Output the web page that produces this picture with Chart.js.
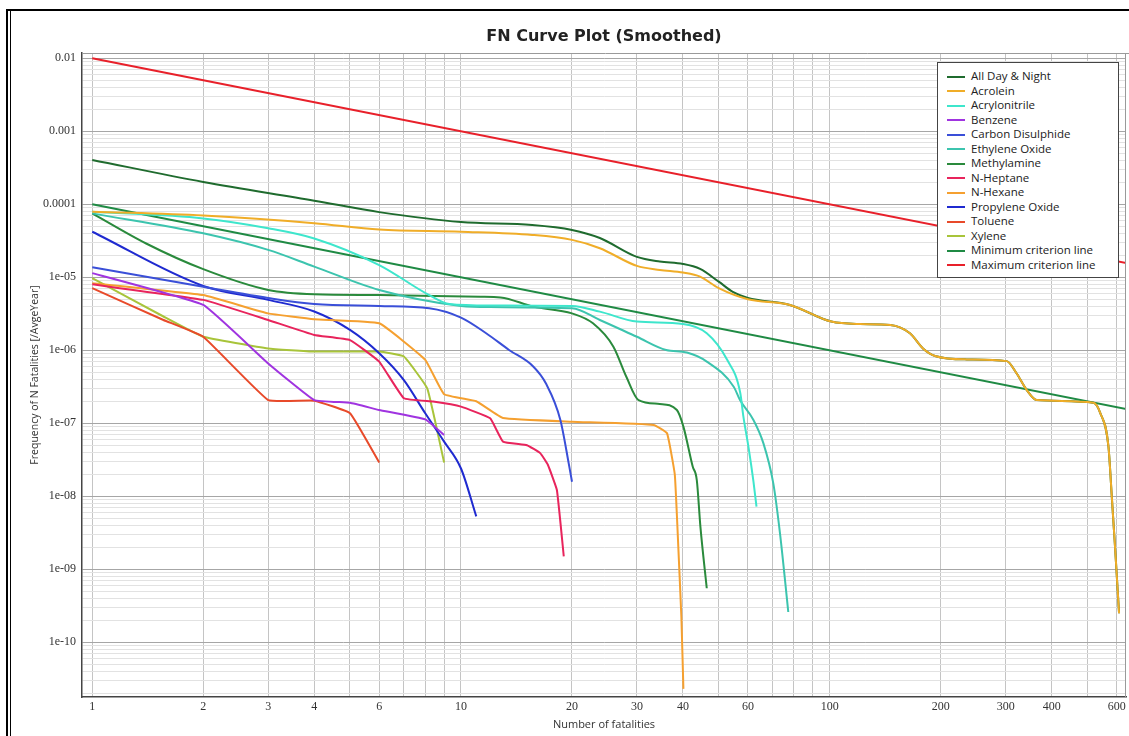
<!DOCTYPE html>
<html>
<head>
<meta charset="utf-8">
<title>FN Curve Plot (Smoothed)</title>
<script src="https://cdn.jsdelivr.net/npm/chart.js@4.4.1/dist/chart.umd.min.js"></script>
<style>
  html, body { margin: 0; padding: 0; background: #fff; overflow: hidden; }
  #wrap { position: relative; width: 1129px; height: 736px; overflow: hidden; }
  #fn { position: absolute; left: 0; top: 0; }
  .frame { position: absolute; left: 6px; top: 9px; width: 1200px; height: 800px;
           border-left: 2px solid #000; border-top: 2px solid #000; }
  .frame2 { position: absolute; left: 10px; top: 11px; width: 5px; height: 800px;
            border-left: 1px solid #000; }
  #legend { position: absolute; left: 937px; top: 62px; width: 182px; height: 216px;
            box-sizing: border-box; border: 1px solid #444; background: #fff;
            padding-top: 6px; font: 11.5px 'Open Sans', sans-serif; color: #222; }
  #legend div { height: 14.5px; line-height: 14.5px; white-space: nowrap; }
  #legend .sw { display: inline-block; width: 18px; height: 2px; vertical-align: middle;
                margin: 0 6px 0 9px; }
</style>
</head>
<body>
<div id="wrap">
  <canvas id="fn" width="1129" height="736"></canvas>
  <div class="frame"></div>
  <div class="frame2"></div>
  <div id="legend"></div>
</div>
<script>
// [number of fatalities, frequency]
const allDay = [[1, 4.05e-4], [2, 2.02e-4], [4, 1.12e-4], [6, 7.8e-5], [10, 5.7e-5], [15.6, 5.2e-5],
  [20, 4.45e-5], [23.8, 3.45e-5], [30, 1.9e-5], [34.6, 1.64e-5], [40, 1.52e-5], [44.5, 1.3e-5],
  [50, 8.7e-6], [54.6, 6.3e-6], [60, 5.2e-6], [78, 4.18e-6], [101, 2.47e-6], [121, 2.29e-6],
  [146, 2.22e-6], [165, 1.71e-6], [179, 1.06e-6], [193, 8.35e-7], [235, 7.5e-7], [302, 7.1e-7],
  [321, 4.84e-7], [342, 2.86e-7], [364, 2.08e-7], [519, 1.91e-7], [541, 1.4e-7], [570, 4.8e-8],
  [582, 9.9e-9], [594, 2.0e-9], [609, 2.5e-10]];
const acrolein = [[1, 7.9e-5], [2, 7.0e-5], [4, 5.5e-5], [6, 4.5e-5], [10, 4.2e-5], [15.6, 3.8e-5],
  [20, 3.25e-5], [23.8, 2.5e-5], [30, 1.43e-5], [34.6, 1.26e-5], [40, 1.16e-5], [44.5, 1.02e-5],
  [50, 7.1e-6], [60, 5.0e-6], [78, 4.18e-6], [101, 2.47e-6], [121, 2.29e-6], [146, 2.22e-6],
  [165, 1.71e-6], [179, 1.06e-6], [193, 8.35e-7], [235, 7.5e-7], [302, 7.1e-7], [321, 4.84e-7],
  [342, 2.86e-7], [364, 2.08e-7], [519, 1.91e-7], [541, 1.4e-7], [570, 4.8e-8], [582, 9.9e-9],
  [594, 2.0e-9], [609, 2.5e-10]];
const acrylonitrile = [[1, 7.9e-5], [2, 6.4e-5], [3, 4.7e-5], [4, 3.4e-5], [6, 1.47e-5], [8.2, 5.7e-6],
  [9.3, 4.3e-6], [12, 4.1e-6], [20, 4.05e-6], [23.8, 3.38e-6], [30, 2.47e-6], [40, 2.29e-6],
  [46.4, 1.71e-6], [52.7, 7.4e-7], [57.2, 2.6e-7], [58.3, 1.25e-7], [60.3, 4.5e-8], [62.1, 1.6e-8],
  [63.3, 7.2e-9]];
const benzene = [[1, 1.14e-5], [2, 4.18e-6], [3, 6.6e-7], [4, 2.08e-7], [5, 1.91e-7], [6, 1.52e-7],
  [8, 1.13e-7], [9, 6.9e-8]];
const carbonDisulphide = [[1, 1.37e-5], [2, 7.4e-6], [3, 5.2e-6], [4, 4.3e-6], [6, 4.04e-6], [8.2, 3.76e-6],
  [10, 2.8e-6], [11.7, 1.71e-6], [13.5, 1.01e-6], [15.7, 6.0e-7], [17, 3.5e-7], [18.6, 1.11e-7],
  [19.6, 2.8e-8], [20, 1.58e-8]];
const ethyleneOxide = [[1, 7.5e-5], [2, 4.0e-5], [3, 2.37e-5], [4, 1.4e-5], [6, 6.7e-6], [10, 4.05e-6],
  [12, 3.9e-6], [20, 3.76e-6], [23.8, 2.6e-6], [30, 1.53e-6], [36, 1.01e-6], [41, 9.3e-7],
  [46.4, 7.0e-7], [54.9, 3.17e-7], [57.1, 2.08e-7], [62.1, 1.11e-7], [66.1, 5.3e-8], [70.3, 1.5e-8],
  [73.3, 3.1e-9], [77.2, 2.6e-10]];
const methylamine = [[1, 7.5e-5], [1.4, 2.9e-5], [2, 1.29e-5], [3, 6.7e-6], [4, 5.85e-6], [6, 5.7e-6],
  [11.3, 5.4e-6], [12.8, 5.3e-6], [15.7, 3.96e-6], [20, 3.2e-6], [22.8, 2.34e-6], [25.9, 1.12e-6],
  [28.1, 4.3e-7], [30.3, 2.08e-7], [34.6, 1.84e-7], [38.5, 1.52e-7], [40.1, 9.0e-8], [42.5, 2.55e-8],
  [43.6, 1.67e-8], [44.6, 3.8e-9], [46.4, 5.5e-10]];
const nHeptane = [[1, 8.0e-6], [2, 4.9e-6], [3, 2.6e-6], [4, 1.62e-6], [5, 1.38e-6], [6, 7.0e-7],
  [7, 2.2e-7], [8.4, 1.98e-7], [10, 1.69e-7], [12, 1.17e-7], [13, 5.6e-8], [15.1, 5.0e-8],
  [16.4, 3.9e-8], [17.2, 2.7e-8], [18.2, 1.22e-8], [19, 1.5e-9]];
const nHexane = [[1, 8.3e-6], [2, 5.7e-6], [3, 3.2e-6], [4, 2.66e-6], [6, 2.34e-6], [8, 7.4e-7],
  [9, 2.5e-7], [11, 2.0e-7], [13, 1.18e-7], [20, 1.05e-7], [33.3, 9.5e-8], [36.2, 7.3e-8],
  [38, 2.0e-8], [38.7, 3.1e-9], [39.6, 2.2e-10], [40.1, 2.3e-11]];
const propyleneOxide = [[1, 4.2e-5], [2, 7.6e-6], [3, 4.9e-6], [4, 3.4e-6], [5, 1.9e-6], [6, 9.1e-7],
  [7, 3.9e-7], [8, 1.37e-7], [9, 5.6e-8], [10, 2.4e-8], [11, 5.3e-9]];
const toluene = [[1, 7.1e-6], [1.56, 2.6e-6], [2, 1.53e-6], [3, 2.08e-7], [4, 2.04e-7], [5, 1.37e-7],
  [6, 2.9e-8]];
const xylene = [[1, 9.7e-6], [1.56, 2.9e-6], [2, 1.53e-6], [3, 1.06e-6], [4, 9.6e-7], [6, 9.6e-7],
  [7, 8.2e-7], [8.1, 3.0e-7], [9, 2.9e-8]];
const minCriterion = [[1, 1e-4], [1000, 1e-7]];
const maxCriterion = [[1, 1e-2], [1000, 1e-5]];

const seriesNames = ['All Day & Night', 'Acrolein', 'Acrylonitrile', 'Benzene', 'Carbon Disulphide',
  'Ethylene Oxide', 'Methylamine', 'N-Heptane', 'N-Hexane', 'Propylene Oxide', 'Toluene', 'Xylene',
  'Minimum criterion line', 'Maximum criterion line'];
const seriesData = [allDay, acrolein, acrylonitrile, benzene, carbonDisulphide, ethyleneOxide,
  methylamine, nHeptane, nHexane, propyleneOxide, toluene, xylene, minCriterion, maxCriterion];
const seriesColors = ['#1f6b2e', '#f0ad28', '#3ee6cc', '#a034e0', '#3a4fd8', '#3cc4ae', '#2a8a3c',
  '#e8245c', '#f5a030', '#1f2ad0', '#e84a2a', '#a8c43a', '#1f8a44', '#e8202a'];
// these few curves are drawn with visible corners in the picture
const angular = ['Benzene', 'N-Heptane', 'N-Hexane', 'Toluene', 'Xylene'];

const xTickLabels = [1, 2, 3, 4, 6, 10, 20, 30, 40, 60, 100, 200, 300, 400, 600];
const yTickValues = [1e-2, 1e-3, 1e-4, 1e-5, 1e-6, 1e-7, 1e-8, 1e-9, 1e-10];
const yTickLabels = ['0.01', '0.001', '0.0001', '1e-05', '1e-06', '1e-07', '1e-08', '1e-09', '1e-10'];

const X_MIN = 0.938, X_MAX = 636, Y_MIN = 1.78e-11, Y_MAX = 0.0118;

// grid lines at 1..9 of every decade, labels only where the picture has them
function logTicks(lo, hi, values, names) {
  const out = [];
  for (let e = Math.floor(Math.log10(lo)); e <= Math.ceil(Math.log10(hi)); e++) {
    for (let m = 1; m <= 9; m++) {
      const v = m * Math.pow(10, e);
      if (v < lo || v > hi) continue;
      const k = values.findIndex(l => Math.abs(l - v) / l < 1e-6);
      out.push({ value: v, major: m === 1, lab: k >= 0 ? names[k] : '' });
    }
  }
  return out;
}

const tickFont = { family: "'Liberation Serif', serif", size: 12 };

const plotFrame = {
  id: 'plotFrame',
  afterDraw(chart) {
    const { ctx, chartArea: a } = chart;
    ctx.save();
    ctx.strokeStyle = '#9a9a9a';
    ctx.lineWidth = 1;
    ctx.beginPath();
    ctx.moveTo(a.left, a.top + 0.5);
    ctx.lineTo(chart.width, a.top + 0.5);
    ctx.moveTo(a.right - 0.5, a.top);
    ctx.lineTo(a.right - 0.5, a.bottom);
    ctx.stroke();
    ctx.fillStyle = '#222';
    ctx.font = "bold 16px 'DejaVu Sans', sans-serif";
    ctx.textAlign = 'center';
    ctx.textBaseline = 'middle';
    ctx.fillText('FN Curve Plot (Smoothed)', (a.left + a.right) / 2, 37);
    ctx.restore();
  }
};

const chart = new Chart(document.getElementById('fn'), {
  type: 'line',
  data: {
    datasets: seriesNames.map((name, i) => ({
      label: name,
      data: seriesData[i].map(p => ({ x: p[0], y: p[1] })),
      borderColor: seriesColors[i],
      backgroundColor: seriesColors[i],
      borderWidth: 2,
      pointRadius: 0,
      fill: false,
      cubicInterpolationMode: angular.includes(name) ? 'default' : 'monotone',
      tension: angular.includes(name) ? 0.1 : 0,
      order: i === 0 ? 1 : 0
    }))
  },
  options: {
    responsive: false,
    animation: false,
    layout: { padding: { top: 53, left: 12, right: 3, bottom: 0 } },
    plugins: {
      legend: { display: false },
      tooltip: { enabled: false },
      title: { display: false }
    },
    scales: {
      x: {
        type: 'logarithmic',
        min: X_MIN,
        max: X_MAX,
        afterBuildTicks: axis => { axis.ticks = logTicks(X_MIN, X_MAX, xTickLabels, xTickLabels.map(String)); },
        afterFit: axis => { axis.height = 39; },
        ticks: {
          autoSkip: false, maxRotation: 0, padding: 3, font: tickFont, color: '#333',
          callback: (v, i, ticks) => ticks[i].lab
        },
        grid: { color: '#c4c4c4', lineWidth: 1, drawTicks: false },
        border: { color: '#444', width: 1.5 },
        title: {
          display: true, text: 'Number of fatalities', color: '#333',
          font: { family: "'Open Sans', sans-serif", size: 11 }, padding: { top: 0, bottom: 5 }
        }
      },
      y: {
        type: 'logarithmic',
        min: Y_MIN,
        max: Y_MAX,
        afterBuildTicks: axis => { axis.ticks = logTicks(Y_MIN, Y_MAX, yTickValues, yTickLabels); },
        afterFit: axis => { axis.width = 70; },
        ticks: {
          autoSkip: false, padding: 6, font: tickFont, color: '#333',
          callback: (v, i, ticks) => ticks[i].lab
        },
        grid: {
          color: c => (c.tick && c.tick.major ? '#a6a6a6' : '#e2e2e2'),
          lineWidth: 1, drawTicks: false
        },
        border: { color: '#444', width: 1.5 },
        title: {
          display: true, text: 'Frequency of N Fatalities [/AvgeYear]', color: '#333',
          font: { family: "'Open Sans', sans-serif", size: 10.5 }, padding: { top: 17, bottom: 0 }
        }
      }
    }
  },
  plugins: [plotFrame]
});

const legendBox = document.getElementById('legend');
chart.data.datasets.forEach(ds => {
  const row = document.createElement('div');
  const sw = document.createElement('span');
  sw.className = 'sw';
  sw.style.background = ds.borderColor;
  row.appendChild(sw);
  row.appendChild(document.createTextNode(ds.label));
  legendBox.appendChild(row);
});
</script>
</body>
</html>
